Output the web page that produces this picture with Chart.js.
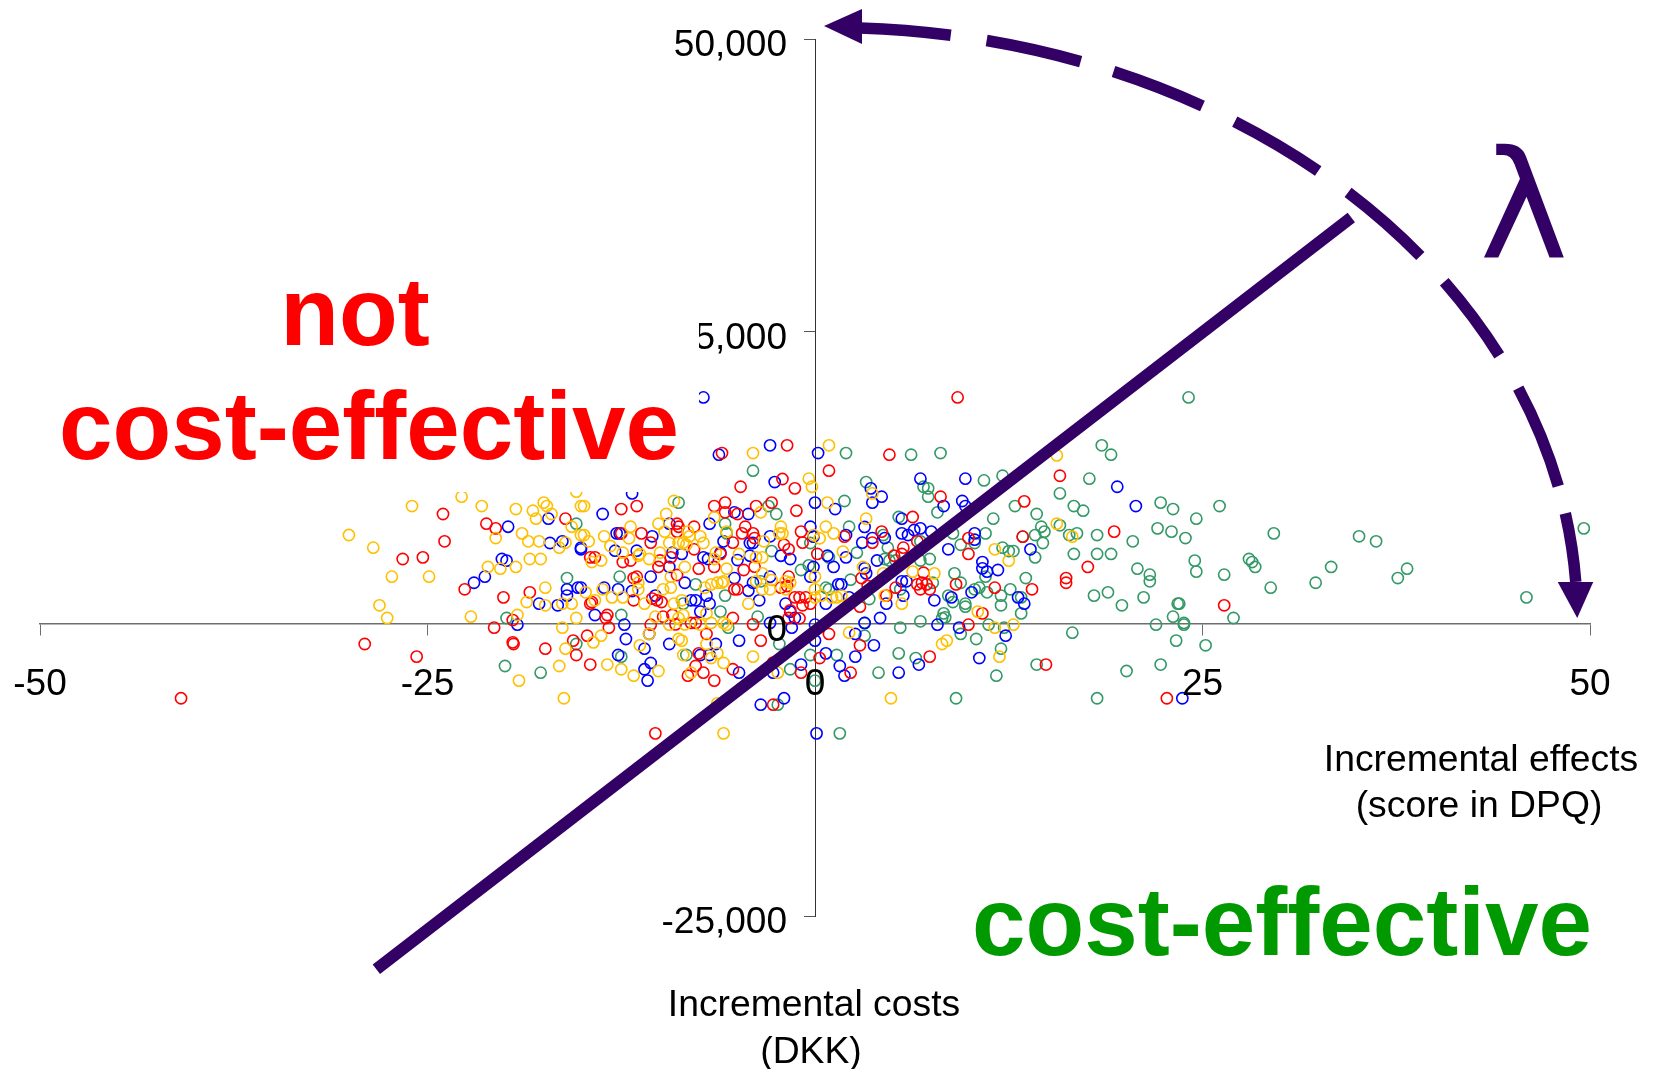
<!DOCTYPE html>
<html>
<head>
<meta charset="utf-8">
<style>html,body{margin:0;padding:0;background:#fff}canvas{display:block}</style>
<script src="https://cdn.jsdelivr.net/npm/chart.js@4"></script>
</head>
<body>
<canvas id="c" width="1656" height="1069"></canvas>
<script>
const xTickLabels = {'-50':'-50','-25':'-25','0':'0','25':'25','50':'50'};
const yTickLabels = {'-25000':'-25,000','0':'0','25000':'25,000','50000':'50,000'};
const thresholdLine = [[-28.3,-29560],[34.6,34730]];

const yellowPoints = [
[-30.07,7581],[-28.5,6500],[-26,10060],[-27.3,4020],[-24.9,4020],[-28.1,1570],[-27.6,485],[-22.8,10860],[-21.5,10060],[-19.3,9800],[-18.2,9660],[-18,8980],[-17.5,10350],[-17.3,10060],[-17,9380],[-20.6,7320],[-18.9,7720],[-18.5,7040],[-17.8,7040],[-16.5,6500],[-16.1,6930],[-15.7,8290],[-15.1,10060],[-15.1,7580],[-21.1,4850],[-20.3,4700],[-19.3,4850],[-18.4,5530],[-17.7,5530],[-17.4,3080],[-18.6,1850],[-17.4,1570],[-16.3,1710],[-15.7,1710],[-22.2,600],[-19.2,740],[-15.4,485],[-16.3,-340],[-16.1,-2140],[-16.5,-3620],[-19.1,-4870],[-16.2,-6380],[-15.4,11290],
[-14.9,10060],[-9.1,10490],[-9.6,9380],[-6.5,9090],[-3.5,9520],[-10.1,8550],[-11.9,8290],[-4,14590],[0.9,15250],[-0.4,12400],[-0.2,11710],[0.8,10350],
[-14.9,7580],[-14.6,7040],[-13.6,7470],[-13.2,6640],[-12.4,6070],[-13.8,5400],[-14.4,5270],[-12,7300],[-11.3,5960],[-11.4,5810],[-10.7,5530],[-10,6070],[-9.7,7870],[-9.4,6900],[-8.8,6900],[-8.5,6930],[-8.2,7870],[-8.1,7470],[-8.3,6750],[-7.4,7470],[-7.2,6900],[-6.4,6070],[-6.5,5530],[-5.7,7870],[-5.7,4700],[-4.9,5960],[-3.3,7040],[-3.4,5670],[-3.8,5670],[-2.2,8290],[-2.3,7720],[-2.1,7720],[-0.1,7580],[0.3,7300],[0.7,8290],[1.2,7720],[-8.4,4850],
[-14.8,2680],[-14.2,2000],[-13.7,2940],[-13.1,2250],[-12.4,2250],[-11.4,3500],[-11.4,2940],[-11,1710],[-10.3,600],[-9.8,2940],[-9.3,3080],[-9.3,4020],[-8.6,2000],[-9.1,1710],[-8.8,485],[-8.5,740],[-9.4,-85],[-8.4,-60],[-7.4,-85],[-6.7,60],[-7.1,3080],[-7,880],[-6.7,3360],[-6.3,3500],[-6,3500],[-5.9,3620],[-5.9,60],[-5.7,-85],[-4.3,1710],[-3.4,4300],[-3.8,3620],[-3.4,2940],[-2.9,2940],[-2.8,3730],[-1.9,3620],[-1.6,3500],[-1.9,2940],[0,4020],[0,2940],[0,2250],[0.4,2400],[1.1,2250],[1.4,2250],
[-13.8,-1030],[-14.3,-1600],[-13.4,-3500],[-12.5,-3900],[-11.7,-4450],[-10.1,-4050],[-10.7,-880],[-11.3,-1850],[-8.8,-1310],[-8.6,-1450],[-8.5,-2680],[-7,-1740],[-6.3,-2540],[-6.7,-2940],[-5.9,-3360],[-8,-4190],[-4,-2820],[-2.4,-4190],[-5.9,-9380],[-6.3,-6810],
[15.6,14390],[3.7,11140],[3.3,8980],[15.6,8550],[16.6,7440],[1.8,6160],[11.6,6360],[12.5,5390],[3.1,4850],[4.4,4300],[6.3,4450],[7.7,4300],[1.7,2400],[4.5,2400],[5.6,1710],[10.5,1030],[11.6,-340],[12.8,-85],[2.2,-770],[8.5,-1450],[8.2,-1740],[11.9,-2820],[4.9,-6380]
];

const redPoints = [
[-40.9,-6380],[-24,9380],[-23.9,7040],[-26.6,5530],[-25.3,5670],[-21.2,8550],[-20.6,8150],[-16.1,8980],[-22.6,2940],[-20.1,2250],[-18.4,2680],[-19.5,310],[-20.7,-340],[-19.5,-1600],[-19.45,-1740],[-17.4,-2140],[-29.05,-1740],[-25.7,-2820],[-15.6,-1450],[-15.4,-2680],
[-1.8,15250],[-6,14590],[0.9,13080],[-2.1,12370],[-1.3,11570],[-4.8,11710],[-12.5,9800],[-11.5,10060],[-6.5,10060],[-5.8,10350],[-5.8,9520],[-5,9380],[-3.8,10060],[-2.8,10350],[-1.2,9660],[-7.8,8290],
[-8.9,8550],[-8.8,8290],[-8.9,7870],[-12.5,7720],[-11.2,7720],[-10.6,6930],[-4.5,8290],[-4.7,7720],[-5.3,6930],[-4,7720],[-3.9,7320],[-2,6750],[-1.7,6360],[-0.9,7870],[-0.8,6930],[0.15,5960],[-14.5,5670],[-14.2,5670],[-12.4,5270],[-11.9,5400],[-10,5400],[-10.1,4850],[-7.8,6360],[-9.3,5670],[-6.1,5960],[-3.9,4870],[-6.5,4850],[-7.5,4700],[-4.6,4590],
[-11.7,3900],[-11.5,4020],[-11.7,2000],[-14.5,1710],[-14.4,1850],[-13.4,740],[-13.5,485],[-10.5,2140],[-10.2,2000],[-9.9,1850],[-8.9,4160],[-9.8,600],[-9.2,740],[-9,-60],[-8,60],[-7.7,60],[-5.2,2940],[-5,2940],[-1.7,4020],[-1.8,3220],[-1.3,2250],[-1,2250],[-0.6,2250],[-0.3,1710],[-0.8,1570],[-1.6,1140],[-1.7,485],[-1,455],[-2.2,3080],[-5.3,485],[-4,-60],[-10.6,-85],[-7,-880],
[-14.7,-1030],[-13.3,-340],[-7.5,-2540],[-3.5,-1450],[-14.5,-3500],[-8.2,-4450],[-7.7,-3620],[-7.2,-4190],[-5.3,-3900],[-6.5,-4870],[-0.9,-4190],[0.3,-2940],[0.9,-880],[-2.7,-3330],[-10.3,-9380],[-2.7,-6930],
[9.2,19350],[4.8,14450],[15.8,12650],[8.1,10860],[13.5,10460],[6.3,9120],[4.3,7870],[3.7,6930],[13.4,7440],[9.9,7320],[9.9,5960],[5.7,6500],[6.6,7040],[1.9,7440],[5.1,5810],[5.6,5960],[17.6,4850],[16.2,3900],[16.2,3500],[7,4360],[6.6,3360],[6.9,3500],[7.2,3360],[6.8,2940],[7.4,2940],[9.1,3360],[11.6,3080],[14,2940],[3,3900],[3.4,3220],[4.6,2400],[5.2,3080],[2.9,1450],[10.8,880],[9.9,-85],[2.9,-1850],[7.4,-2820],[14.9,-3500],[2.3,-4190],
[19.3,7870],[26.4,1570],[22.7,-6380]
];

const bluePoints = [
[-19.8,8290],[-17.2,8980],[-17.1,6900],[-16.3,7040],[-15.1,6500],[-20.2,5530],[-19.9,5390],[-21.3,4020],[-22,3500],[-16,2940],[-16,2400],[-15.3,3080],[-17.8,1710],[-16.6,1570],[-19.2,-85],
[-7.2,19350],[-2.9,15250],[-6.2,14450],[0.2,14590],[-2.6,12110],[0,10350],[-11.8,11140],[-13.7,9380],[1.3,9800],[-5.2,9520],[-4.3,9380],[-6.8,8550],
[-12.8,7720],[-12.6,7720],[-12.9,6240],[-11.5,6240],[-10.5,7470],[-9.4,8550],[-9.2,6070],[-8.6,5960],[-7.2,5670],[-6.9,5530],[-6.1,6070],[-5.9,7040],[-4.2,6900],[-4,6900],[-2.9,7470],[-4.2,5810],[-0.3,8290],[-2.2,5810],[-1.6,5530],[-15.1,6360],[-9.4,4850],[-0.1,4850],[1.2,4850],[0.8,5810],[-0.1,7440],[-5,5440],
[-10.6,4020],[-15.1,3080],[-13.6,3080],[-12.7,2940],[-11.8,2790],[-14.2,740],[-12.3,-85],[-10.3,2400],[-8.4,3500],[-8,2000],[-7.7,2000],[-7,2400],[-6.8,1710],[-7.4,1030],[-5.2,3900],[-4,3500],[-4.3,2820],[-2.9,4020],[-3.6,2000],[-1.9,1710],[-1.6,1030],[-1.3,485],[-1.5,-340],[-0.3,4020],[1.5,3360],[0.7,1710],[-2.9,60],[0,-85],
[-12.2,-1310],[-10.7,-880],[-11,-2140],[-9.4,-1740],[-12.7,-2680],[-11,-3900],[-10.6,-3360],[-10.8,-4870],[-6.4,-1740],[-4.9,-1450],[-4.9,-4190],[-7.4,-2680],[-6.8,-2680],[0.7,-2540],[-0.9,-3500],[1.6,-3620],[0,-1450],[-3.5,-6930],[-2,-6380],[0.1,-9380],[-2.7,-4190],
[6.8,12400],[9.7,12400],[3.6,11570],[4.3,10860],[3.7,10350],[9.5,10490],[9.7,10060],[8.3,10060],[5.6,8980],[3.2,8270],[2,7580],[3.05,6930],[3.7,7320],[4.5,7320],[5.6,7720],[6,7580],[6.4,8010],[6.8,8150],[7.5,7870],[10.3,7720],[10.3,7180],[8.6,6360],[13.9,6360],[4,5400],[2,5670],[10.8,5270],[10.8,4730],[11.1,4450],[11.8,4590],[3.2,4730],[3.3,4300],[1.7,3360],[5.6,3620],[5.9,3620],[2.2,2250],[5.7,2400],[7.7,2000],[8.8,2250],[10.1,2680],[13.1,2250],[13.5,1710],[4.6,1710],[4.2,485],[3.2,60],[7.9,-85],[9.3,-340],[2.6,-880],[3.8,-1850],[2.6,-2820],[6.7,-3500],[10.6,-2940],[12.3,-1030],[5.4,-4190],[1.9,-4450],
[19.5,11710],[20.7,10060],[23.7,-6380]
];

const greenPoints = [
[-15.4,8550],[-16,3900],[-19.9,485],[-15.4,-1740],[-20,-3620],[-17.7,-4190],
[-4,13080],[-8.8,10350],[-3,10060],[-2.5,9380],[-5.8,8550],[-5.7,7720],[-2.8,6210],[-0.3,6900],[0.9,5670],[-0.4,4990],[-0.9,4590],
[-12.6,4020],[-7.7,3360],[-5.8,2400],[-12.5,740],[-6.1,1030],[-3.7,600],[-3.5,3620],[0.7,3080],[0.9,2940],[-5.6,-340],[-8.5,1710],
[-12.5,-2820],[-8.3,-2680],[-2.3,-1740],[-1.6,-3900],[-0.3,-2680],[0,-4870],[1.4,-2680],[-2.4,-6930],[1.6,-9380],
[2,14590],[6.2,14450],[8.1,14590],[3.3,12110],[10.9,12250],[12.1,12650],[17.7,12400],[7,11710],[7.3,11570],[7.3,10860],[1.9,10490],[15.8,11140],[12.9,10060],[7.9,9520],[5.4,9120],[11.5,8980],[14.3,9380],[16.7,10060],[17.3,9660],[14.6,8290],[15.8,8410],[2.2,8290],[4.4,7580],[14.8,7870],[14.2,7580],[11,7720],[16.4,7580],[16.9,7720],[18.2,7580],[13.4,7440],[14.7,6900],[8.9,7720],[9.4,6750],[10.3,6900],[6.8,7040],[4.7,6500],[2.7,6070],[12.1,6500],[12.5,6210],[12.8,6210],[14.2,5670],[16.7,5960],[18.2,5960],[4.5,5530],[4.8,5400],[5.2,5400],[7.4,5530],[6.8,5400],[9,4300],[11,4020],[2.3,3760],[13.6,3900],[9.4,3500],[10.3,2940],[10.6,3080],[11.1,2680],[12.6,2940],[7.6,3500],[5.5,2940],[3.5,2110],[8.6,2400],[8.9,1850],[9.7,1710],[9.7,1450],[12,2400],[12,1570],[13.3,2250],[18,2400],[13.3,880],[8.3,880],[8.2,455],[8.4,540],[6.8,200],[3.2,60],[5.5,-340],[11.2,-85],[12.2,-340],[3.2,-1030],[9.4,-880],[10.4,-1310],[16.6,-770],[12,-2140],[5.4,-2540],[6.5,-2940],[4.1,-4190],[14.3,-3500],[11.7,-4450],[9.1,-6380],[18.2,-6380],
[24.1,19350],[18.5,15250],[19.1,14450],[22.3,10350],[23.1,9800],[24.6,8980],[26.1,10060],[22.1,8150],[23,7870],[23.9,7320],[20.5,7040],[29.6,7720],[35.1,7470],[36.2,7040],[19.1,5960],[24.5,5390],[24.6,4450],[20.8,4700],[21.6,4190],[21.6,3620],[26.4,4190],[28,5530],[28.2,5270],[28.4,4850],[33.3,4850],[32.3,3500],[29.4,3080],[38.2,4700],[37.6,3900],[45.9,2250],[49.6,8150],[18.9,2680],[19.8,1570],[21.2,2250],[23.4,1710],[23.5,1710],[23.1,600],[22,-85],[23.8,60],[23.8,-85],[27,485],[23.3,-1450],[25.2,-1850],[22.3,-3500],[20.1,-4050]
];

/* lambda sweep: an ellipse in data units, dash pieces as angle pairs in degrees */
const sweepCentre = [0.97, 490];
const sweepRadii = [48.2, 50500];
const sweepDashes = [[87.7,80.7],[77.9,70.4],[67.7,60.1],[57.2,49.2],[46.1,37.8],[34.7,26.4],[22.9,12.9],[10.2,3.5]];
const PURPLE = '#330066';

const toXY = p => ({x:p[0], y:p[1]});
const ring = (color, pts) => ({
  data: pts.map(toXY), showLine:false, pointStyle:'circle', pointRadius:5.6, pointHoverRadius:5.6,
  pointBorderWidth:1.6, pointBorderColor:color, pointBackgroundColor:'rgba(0,0,0,0)', borderColor:color, backgroundColor:'rgba(0,0,0,0)'
});

const overlay = {
  id:'overlay',
  afterDraw(chart){
    const {ctx, scales:{x,y}} = chart;
    ctx.save();
    // vertical axis tick labels sit clear of the crossing axis
    ctx.fillStyle='#000'; ctx.font='37px "Liberation Sans"';
    ctx.textAlign='right'; ctx.textBaseline='middle';
    y.ticks.forEach(t=>ctx.fillText(t.label, x.getPixelForValue(0)-28, y.getPixelForValue(t.value)+7));
    // white backing of the upper-left text box
    ctx.fillStyle='#fff';
    ctx.fillRect(45,245,654,247);
    // sweep
    const cx=x.getPixelForValue(sweepCentre[0]), cy=y.getPixelForValue(sweepCentre[1]);
    const rx=x.getPixelForValue(sweepCentre[0]+sweepRadii[0])-cx;
    const ry=cy-y.getPixelForValue(sweepCentre[1]+sweepRadii[1]);
    ctx.strokeStyle=PURPLE; ctx.fillStyle=PURPLE; ctx.lineWidth=11.5; ctx.lineCap='butt';
    const rad=d=>d*Math.PI/180;
    sweepDashes.forEach(d=>{
      ctx.beginPath();
      ctx.ellipse(cx,cy,rx,ry,0,-rad(d[0]),-rad(d[1]),false);
      ctx.stroke();
    });
    // arrow heads at the two ends of the sweep
    const a0=rad(sweepDashes[0][0]); const bx=cx+rx*Math.cos(a0), by=cy-ry*Math.sin(a0);
    ctx.beginPath(); ctx.moveTo(bx+2,by-19); ctx.lineTo(bx-36,by-2); ctx.lineTo(bx+2,by+16); ctx.closePath(); ctx.fill();
    const a1=rad(sweepDashes[7][1]); const ex=cx+rx*Math.cos(a1), ey=cy-ry*Math.sin(a1);
    ctx.beginPath(); ctx.moveTo(ex-18,ey); ctx.lineTo(ex+17.5,ey); ctx.lineTo(ex+1.5,ey+36); ctx.closePath(); ctx.fill();
    // texts
    ctx.textBaseline='alphabetic'; ctx.textAlign='center';
    ctx.font='bold 96.2px "Liberation Sans"';
    ctx.fillStyle='#FF0000';
    ctx.fillText('not',355,345);
    ctx.fillText('cost-effective',369,459);
    ctx.fillStyle='#009900';
    ctx.fillText('cost-effective',1282,955);
    ctx.fillStyle=PURPLE;
    ctx.font='150px "DejaVu Sans"';
    ctx.fillText('λ',1524,257);
    ctx.fillStyle='#000';
    ctx.font='37.3px "Liberation Sans"';
    ctx.fillText('Incremental effects',1481,771);
    ctx.fillText('(score in DPQ)',1479,817);
    ctx.fillText('Incremental costs',814,1016);
    ctx.fillText('(DKK)',811,1063);
    ctx.restore();
  }
};

new Chart(document.getElementById('c'),{
  type:'scatter',
  data:{datasets:[
    {data:thresholdLine.map(toXY), showLine:true, borderColor:PURPLE, borderWidth:12, pointRadius:0, clip:false, borderCapStyle:'butt'},
    ring('#FFC000',yellowPoints),
    ring('#FF0000',redPoints),
    ring('#0000FF',bluePoints),
    ring('#339966',greenPoints)
  ]},
  options:{
    responsive:false, animation:false,
    layout:{padding:{left:40,right:66,top:39,bottom:153}},
    plugins:{legend:{display:false},tooltip:{enabled:false},title:{display:false}},
    scales:{
      x:{type:'linear',min:-50,max:50,position:{y:0},
        afterFit:s=>{s.paddingLeft=0;s.paddingRight=0;},
        border:{display:true,color:'#6e6e6e',width:1.5},
        grid:{display:true,drawOnChartArea:false,drawTicks:true,tickLength:11,tickColor:'#6e6e6e',tickWidth:1},
        ticks:{stepSize:25,autoSkip:false,maxRotation:0,padding:28,z:1,color:'#000',font:{family:'"Liberation Sans"',size:37},callback:v=>xTickLabels[String(v)]}},
      y:{type:'linear',min:-25000,max:50000,position:{x:0},
        border:{display:true,color:'#333',width:1},
        grid:{display:true,drawOnChartArea:false,drawTicks:true,tickLength:11,tickColor:'#555',tickWidth:1},
        ticks:{display:false,stepSize:25000,autoSkip:false,callback:v=>yTickLabels[String(v)]}}
    }
  },
  plugins:[overlay]
});
</script>
</body>
</html>
